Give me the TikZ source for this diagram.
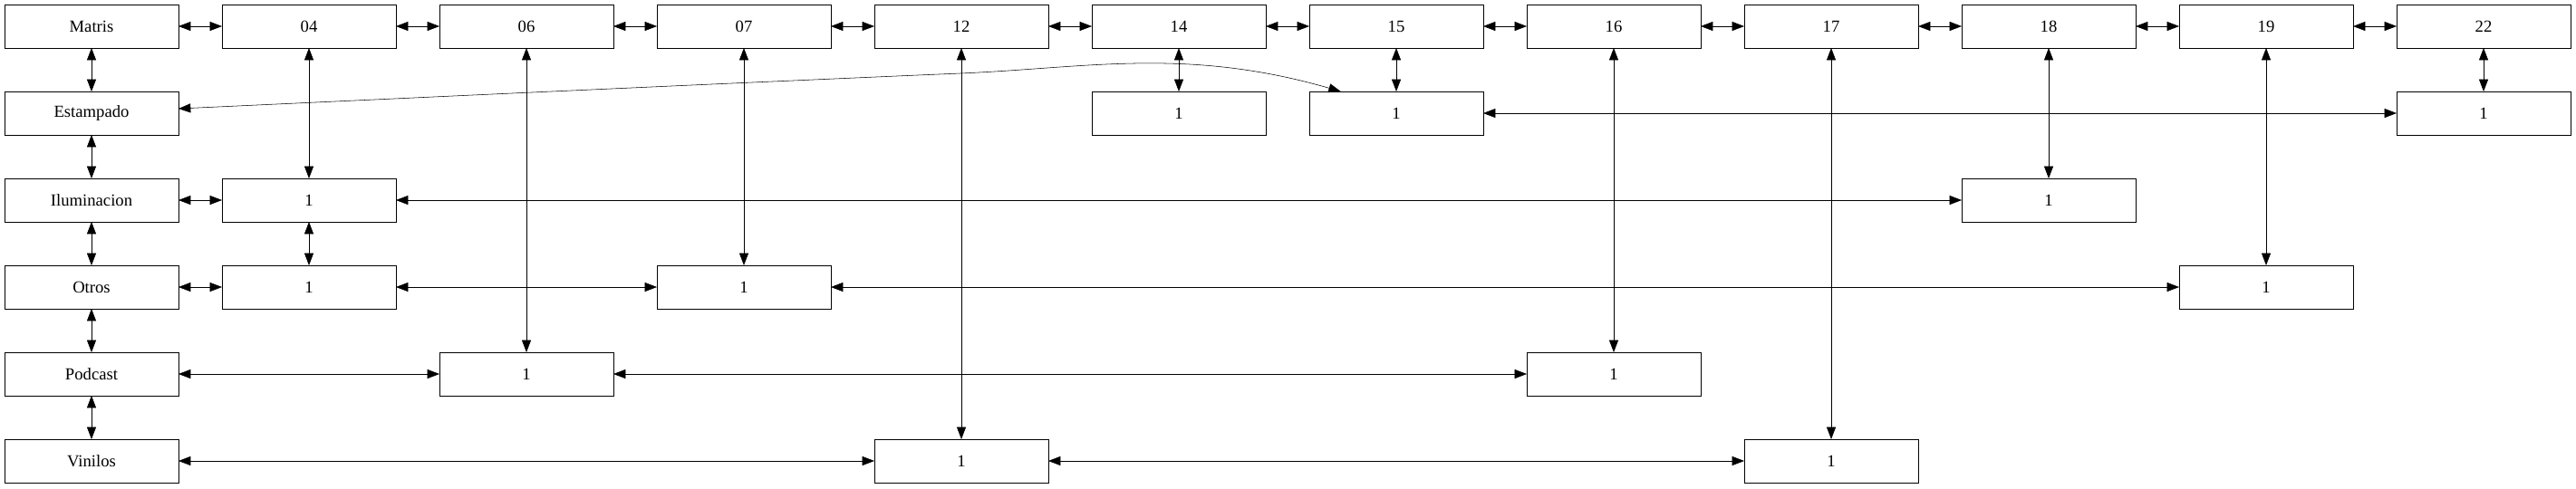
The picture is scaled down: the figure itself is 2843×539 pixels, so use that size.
\documentclass[tikz,border=0pt]{standalone}
\usepackage{fontspec}
\setmainfont{Liberation Serif}
\usetikzlibrary{positioning, arrows.meta}
\tikzset{
  box/.style={
    draw, rectangle, minimum width=144pt, minimum height=36pt,
    inner sep=0pt, outer sep=0pt, font=\fontsize{14}{16}\selectfont
  },
  >={Triangle[length=10pt,width=7.5pt]}, <->, node distance=36pt, line width=1pt
}

\begin{document}
\begin{tikzpicture}[x=0.75pt, y=-0.75pt]
  \useasboundingbox (0,0) rectangle (2843,539);

  % top row
  \node[box] (matris) at (101,29) {Matris};
  \node[box, right = of matris] (c04) {04};
  \node[box, right = of c04] (c06) {06};
  \node[box, right = of c06] (c07) {07};
  \node[box, right = of c07] (c12) {12};
  \node[box, right = of c12] (c14) {14};
  \node[box, right = of c14] (c15) {15};
  \node[box, right = of c15] (c16) {16};
  \node[box, right = of c16] (c17) {17};
  \node[box, right = of c17] (c18) {18};
  \node[box, right = of c18] (c19) {19};
  \node[box, right = of c19] (c22) {22};

  % left column
  \node[box, below = of matris] (est) {Estampado};
  \node[box, below = of est] (ilu) {Iluminacion};
  \node[box, below = of ilu] (otr) {Otros};
  \node[box, below = of otr] (pod) {Podcast};
  \node[box, below = of pod] (vin) {Vinilos};

  % counts
  \node[box] (e14) at (c14 |- est) {1};
  \node[box] (e15) at (c15 |- est) {1};
  \node[box] (e22) at (c22 |- est) {1};
  \node[box] (i04) at (c04 |- ilu) {1};
  \node[box] (i18) at (c18 |- ilu) {1};
  \node[box] (o04) at (c04 |- otr) {1};
  \node[box] (o07) at (c07 |- otr) {1};
  \node[box] (o19) at (c19 |- otr) {1};
  \node[box] (p06) at (c06 |- pod) {1};
  \node[box] (p16) at (c16 |- pod) {1};
  \node[box] (v12) at (c12 |- vin) {1};
  \node[box] (v17) at (c17 |- vin) {1};

  \draw (matris) edge (c04)
        (c04) edge (c06)
        (c06) edge (c07)
        (c07) edge (c12)
        (c12) edge (c14)
        (c14) edge (c15)
        (c15) edge (c16)
        (c16) edge (c17)
        (c17) edge (c18)
        (c18) edge (c19)
        (c19) edge (c22);

  \draw (matris) edge (est)
        (est) edge (ilu)
        (ilu) edge (otr)
        (otr) edge (pod)
        (pod) edge (vin);

  \draw (c04) edge (i04)
        (i04) edge (o04)
        (c06) edge (p06)
        (c07) edge (o07)
        (c12) edge (v12)
        (c14) edge (e14)
        (c15) edge (e15)
        (c16) edge (p16)
        (c17) edge (v17)
        (c18) edge (i18)
        (c19) edge (o19)
        (c22) edge (e22);

  \draw (e15) edge (e22)
        (ilu) edge (i04)
        (i04) edge (i18)
        (otr) edge (o04)
        (o04) edge (o07)
        (o07) edge (o19)
        (pod) edge (p06)
        (p06) edge (p16)
        (vin) edge (v12)
        (v12) edge (v17);

  % the long bent one
  \draw ([yshift=3.75pt]est.east) .. controls (500,106) and (800,92) .. (1060,81)
        .. controls (1200,75) and (1310,52) .. ([xshift=26pt]e15.north west);
\end{tikzpicture}
\end{document}
